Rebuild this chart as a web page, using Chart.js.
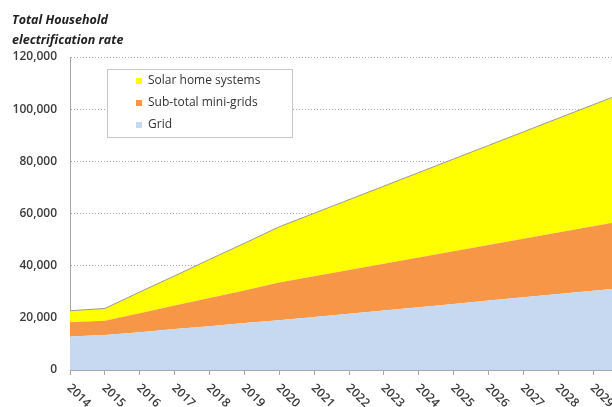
<!DOCTYPE html>
<html>
<head>
<meta charset="utf-8">
<title>Total Household electrification rate</title>
<script src="https://cdn.jsdelivr.net/npm/chart.js@4.4.1/dist/chart.umd.min.js"></script>
<style>
  html, body { margin: 0; padding: 0; background: #fff; overflow: hidden; }
  #wrap { position: relative; width: 640px; height: 407px; }
</style>
</head>
<body>
<div id="wrap"><canvas id="hhChart"></canvas></div>
<script>
// households connected, by supply type
const years = ["2014", "2015", "2016", "2017", "2018", "2019", "2020", "2021", "2022",
               "2023", "2024", "2025", "2026", "2027", "2028", "2029", "2030"];
const gridHH     = [12800, 13400, 14500, 15700, 16800, 18000, 19100, 20350, 21600,
                    22850, 24100, 25350, 26600, 27850, 29100, 30350, 31600];
const miniGridHH = [5500, 5500, 7300, 9000, 10800, 12500, 14400, 15550, 16700,
                    17850, 19000, 20150, 21300, 22450, 23600, 24750, 25900];
const solarHH    = [4400, 4700, 8100, 11400, 14800, 18100, 21400, 24200, 27000,
                    29800, 32600, 35400, 38200, 41000, 43800, 46600, 49400];
const yTicks = [0, 20000, 40000, 60000, 80000, 100000, 120000];

const FONT = "'Open Sans', 'DejaVu Sans', sans-serif";
const TEXT = "#3c3c3c";

// rotated year labels hanging below the axis (clockwise, starting at the tick)
const yearLabels = {
  id: "yearLabels",
  afterDraw(chart) {
    const ctx = chart.ctx;
    const xs = chart.scales.x;
    ctx.save();
    ctx.font = "600 12px " + FONT;
    ctx.fillStyle = TEXT;
    ctx.textAlign = "left";
    ctx.textBaseline = "middle";
    years.forEach((yr, i) => {
      ctx.save();
      ctx.translate(xs.getPixelForTick(i) - 1, xs.top + 16);
      ctx.rotate(Math.PI / 4);
      ctx.fillText(yr, 0, 0);
      ctx.restore();
    });
    ctx.restore();
  }
};

// boxed legend inside the plot, top series first
const boxLegend = {
  id: "boxLegend",
  afterDatasetsDraw(chart) {
    const ctx = chart.ctx;
    const area = chart.chartArea;
    const bx = area.left + 37, by = area.top + 12, bw = 185, bh = 68;
    ctx.save();
    ctx.fillStyle = "#fff";
    ctx.fillRect(bx, by, bw, bh);
    ctx.strokeStyle = "#c8c8c8";
    ctx.lineWidth = 1;
    ctx.strokeRect(bx + 0.5, by + 0.5, bw, bh);
    ctx.font = "12px " + FONT;
    ctx.textBaseline = "middle";
    ctx.textAlign = "left";
    const items = chart.data.datasets.slice().reverse();
    items.forEach((ds, i) => {
      const cy = by + 12 + i * 22;
      ctx.fillStyle = ds.backgroundColor;
      ctx.fillRect(bx + 29, cy - 3, 6, 6);
      ctx.fillStyle = "#333";
      ctx.fillText(ds.label, bx + 41, cy);
    });
    ctx.restore();
  }
};

const ctx = document.getElementById("hhChart").getContext("2d");
const hhChart = new Chart(ctx, {
  type: "line",
  data: {
    labels: years,
    datasets: [
      {
        label: "Grid",
        data: gridHH,
        backgroundColor: "#c6d9f1",
        borderWidth: 0,
        fill: "origin",
      },
      {
        label: "Sub-total mini-grids",
        data: miniGridHH,
        backgroundColor: "#f79646",
        borderWidth: 0,
        fill: "-1",
      },
      {
        label: "Solar home systems",
        data: solarHH,
        backgroundColor: "#ffff00",
        borderColor: "#9a9a9a",
        borderWidth: 1,
        fill: "-1",
      },
    ],
  },
  options: {
    responsive: true,
    maintainAspectRatio: false,
    animation: false,
    elements: { point: { radius: 0 }, line: { tension: 0 } },
    layout: { padding: { left: 12, right: 12, top: 0, bottom: 0 } },
    scales: {
      x: {
        type: "category",
        offset: false,
        grid: { display: true, drawOnChartArea: false, drawTicks: true, tickLength: 5, color: "#a6a6a6" },
        border: { display: true, color: "#a6a6a6" },
        ticks: { display: false },
        afterFit(scale) { scale.height = 37; },
      },
      y: {
        stacked: true,
        min: 0,
        max: 120000,
        afterBuildTicks(scale) { scale.ticks = yTicks.map((v) => ({ value: v })); },
        grid: {
          color: (c) => (c.tick && c.tick.value === 0 ? "rgba(0,0,0,0)" : "#a8a8a8"),
          drawTicks: false,
        },
        border: { display: true, color: "#a6a6a6", dash: [1, 2] },
        ticks: {
          padding: 13,
          color: TEXT,
          font: { family: FONT, size: 12, weight: "600" },
          callback: (v) => v.toLocaleString("en-US"),
        },
        afterFit(scale) { scale.width = 58; },
      },
    },
    plugins: {
      legend: { display: false },
      tooltip: { enabled: false },
      title: {
        display: true,
        align: "start",
        text: ["Total Household", "electrification rate"],
        color: "#222",
        font: { family: FONT, size: 12.5, weight: "bold", style: "italic", lineHeight: 20 / 12.5 },
        padding: { top: 10, bottom: 7 },
      },
    },
  },
  plugins: [yearLabels, boxLegend],
});
</script>
</body>
</html>
